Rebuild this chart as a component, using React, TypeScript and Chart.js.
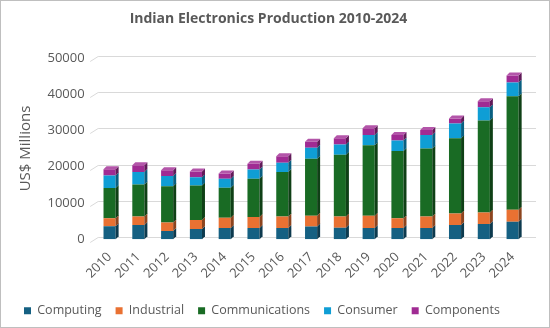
import React, { useEffect, useRef } from "react";
import { Chart, registerables } from "chart.js";

Chart.register(...registerables);

const years = ["2010","2011","2012","2013","2014","2015","2016","2017","2018","2019","2020","2021","2022","2023","2024"];
const computing = [3600, 3900, 2300, 2800, 3100, 3100, 3100, 3500, 3200, 3100, 3100, 3100, 3900, 4200, 4800];
const industrial = [2200, 2400, 2300, 2500, 2800, 3000, 3200, 3000, 3100, 3400, 2700, 3200, 3200, 3200, 3300];
const communications = [8300, 8800, 10000, 9500, 8300, 10600, 12200, 15700, 17000, 19400, 18500, 18700, 20700, 25300, 31300];
const consumer = [3500, 3400, 2800, 2300, 2500, 2500, 2600, 3000, 2800, 2800, 2900, 3700, 4100, 3700, 3800];
const components = [1700, 1900, 1600, 1600, 1400, 1600, 1800, 1700, 1700, 1900, 1500, 1400, 1400, 1600, 1900];

const seriesNames = ["Computing", "Industrial", "Communications", "Consumer", "Components"];
const seriesColors = ["#156082", "#E97132", "#196B24", "#0F9ED5", "#A02B93"];

function shade(hex: string, f: number) {
  const n = parseInt(hex.slice(1), 16);
  let r = (n >> 16) & 255, g = (n >> 8) & 255, b = n & 255;
  if (f < 1) { r *= f; g *= f; b *= f; }
  else { r = r + (255 - r) * (f - 1); g = g + (255 - g) * (f - 1); b = b + (255 - b) * (f - 1); }
  return `rgb(${Math.round(r)},${Math.round(g)},${Math.round(b)})`;
}

const threeD = {
  id: "threeD",
  beforeDatasetsDraw(chart: any) {
    const ctx = chart.ctx;
    const ys = chart.scales.y;
    const area = chart.chartArea;
    ctx.save();
    ctx.strokeStyle = "#d9d9d9";
    ctx.lineWidth = 1;
    ys.ticks.forEach((t: any) => {
      const y = Math.round(ys.getPixelForValue(t.value)) + 0.5;
      ctx.beginPath();
      ctx.moveTo(area.left - 5, y + 3);
      ctx.lineTo(area.left + 3, y - 2);
      ctx.lineTo(area.right + 9, y - 2);
      ctx.stroke();
    });
    ctx.restore();
  },
  afterDatasetsDraw(chart: any) {
    const ctx = chart.ctx;
    const d = 3, dy = 3;
    const n = chart.data.datasets.length;
    ctx.save();
    for (let di = 0; di < n; di++) {
      const meta = chart.getDatasetMeta(di);
      const col = seriesColors[di];
      meta.data.forEach((el: any) => {
        const p = el.getProps(["x", "y", "base", "width"], true);
        const l = p.x - p.width / 2, r = p.x + p.width / 2;
        const top = Math.min(p.y, p.base), bot = Math.max(p.y, p.base);
        ctx.fillStyle = shade(col, 0.6);
        ctx.beginPath();
        ctx.moveTo(r, top);
        ctx.lineTo(r + d, top - dy);
        ctx.lineTo(r + d, bot - dy);
        ctx.lineTo(r, bot);
        ctx.closePath();
        ctx.fill();
        if (di === n - 1) {
          ctx.fillStyle = shade(col, 1.2);
          ctx.beginPath();
          ctx.moveTo(l, top);
          ctx.lineTo(l + d, top - dy);
          ctx.lineTo(r + d, top - dy);
          ctx.lineTo(r, top);
          ctx.closePath();
          ctx.fill();
        }
      });
    }
    ctx.restore();
  },
};

export default function App() {
  const ref = useRef<HTMLCanvasElement>(null);
  useEffect(() => {
    if (!ref.current) return;
    const font = "'Open Sans', sans-serif";
    const values = [computing, industrial, communications, consumer, components];
    const chart = new Chart(ref.current, {
      type: "bar",
      data: {
        labels: years,
        datasets: seriesNames.map((name, i) => ({
          label: name,
          data: values[i],
          backgroundColor: seriesColors[i],
          borderWidth: 0,
          barPercentage: 0.42,
          categoryPercentage: 1,
        })),
      },
      options: {
        animation: false,
        responsive: false,
        maintainAspectRatio: false,
        layout: { padding: { left: 9, right: 22, top: 6, bottom: 0 } },
        plugins: {
          title: {
            display: true,
            text: "Indian Electronics Production 2010-2024",
            color: "#595959",
            font: { family: font, size: 14, weight: "bold" },
            padding: { top: 4, bottom: 30 },
          },
          legend: {
            position: "bottom",
            align: "start",
            title: { display: true, text: "", font: { size: 1 }, padding: { top: 6, bottom: 0 } },
            labels: {
              color: "#595959",
              font: { family: font, size: 12.5 },
              boxWidth: 7,
              boxHeight: 7,
              padding: 14,
            },
          },
          tooltip: { enabled: false },
        },
        scales: {
          x: {
            stacked: true,
            grid: { display: false },
            border: { display: false },
            ticks: {
              color: "#595959",
              font: { family: font, size: 13 },
              maxRotation: 45,
              minRotation: 45,
              padding: 2,
            },
          },
          y: {
            stacked: true,
            min: 0,
            max: 50000,
            grid: { display: false, drawTicks: false },
            border: { display: false },
            ticks: {
              stepSize: 5000,
              color: "#595959",
              font: { family: font, size: 13 },
              padding: 10.5,
              callback: (v: any) => String(v),
            },
            title: {
              display: true,
              text: "US$ Millions",
              color: "#595959",
              font: { family: font, size: 15 },
              padding: { top: 7, bottom: 2 },
            },
          },
        },
      },
      plugins: [threeD],
    });
    return () => chart.destroy();
  }, []);
  return (
    <div style={{ position: "fixed", left: 0, top: 0, width: 550, height: 328, background: "#fff", boxSizing: "border-box", border: "1px solid #bfbfbf" }}>
      <canvas ref={ref} width={548} height={326} style={{ display: "block" }} />
    </div>
  );
}
